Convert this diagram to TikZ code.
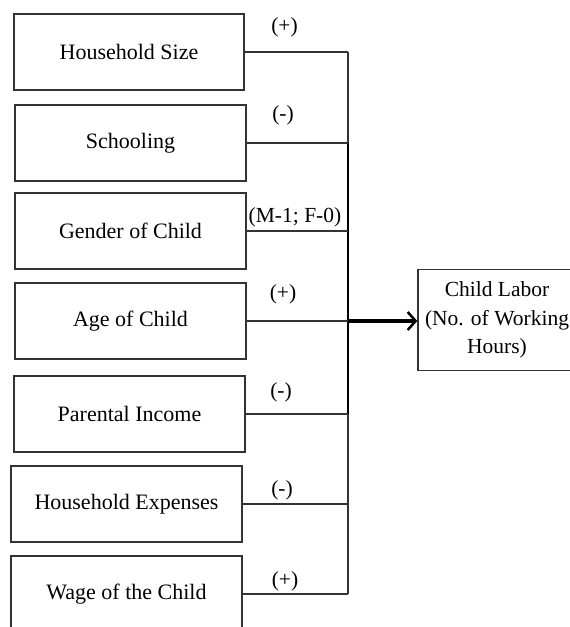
\documentclass[tikz,border=0pt]{standalone}
\usepackage{fontspec}
\setmainfont{Liberation Serif}
\usetikzlibrary{arrows.meta}
\begin{document}
\begin{tikzpicture}[x=1pt,y=-1pt,
  factor/.style={draw=black!80,line width=1.3pt,minimum width=231pt,minimum height=76pt,inner sep=0pt,font=\fontsize{22}{26}\selectfont},
  target/.style={draw=black!80,line width=1.3pt,minimum width=158pt,minimum height=101pt,inner sep=0pt,align=center,font=\fontsize{21.5}{28.5}\selectfont},
  sign/.style={inner sep=0pt,font=\fontsize{21.5}{25}\selectfont},
  link/.style={draw=black!80,line width=1.3pt},
  busline/.style={draw=black,line width=1.8pt}]
\useasboundingbox (0,0) rectangle (570,627);
\fill[white] (0,0) rectangle (570,627);
\node[factor,minimum width=230pt] (hs) at (129,52) {Household Size};
\node[factor] (sc) at (130.5,143) {Schooling};
\node[factor] (gc) at (130.5,231) {Gender of Child};
\node[factor] (ac) at (130.5,321) {Age of Child};
\node[factor] (pi) at (129.5,414) {Parental Income};
\node[factor] (he) at (126.5,504) {Household Expenses};
\node[factor] (wc) at (126.5,594) {Wage of the Child};
\node[target] (cl) at (497,320) {Child Labor\\(No. of Working\\Hours)};
\coordinate (bustop) at (348,52);
\coordinate (busbot) at (348,594);
\coordinate (busmid) at (348,321);
\draw[link] (bustop) -- (busbot);
\draw[busline] (348,143) -- (348,414);
\draw[link] (hs.east) -- (hs.east -| bustop);
\draw[link] (sc.east) -- (sc.east -| bustop);
\draw[link] (gc.east) -- (gc.east -| bustop);
\draw[link] (ac.east) -- (ac.east -| bustop);
\draw[link] (pi.east) -- (pi.east -| bustop);
\draw[link] (he.east) -- (he.east -| bustop);
\draw[link] (wc.east) -- (wc.east -| bustop);
\draw[black,line width=3.5pt,-{Straight Barb[length=8pt,width=18pt,line width=2.5pt]}] (busmid) -- (busmid -| cl.west);
\node[sign] (s1) at (284.5,27) {(+)};
\node[sign] (s2) at (283,115) {(-)};
\node[sign] (s3) at (295,217) {(M-1; F-0)};
\node[sign] (s4) at (283,294) {(+)};
\node[sign] (s5) at (281,392) {(-)};
\node[sign] (s6) at (282,490) {(-)};
\node[sign] (s7) at (285,581) {(+)};
\end{tikzpicture}
\end{document}
